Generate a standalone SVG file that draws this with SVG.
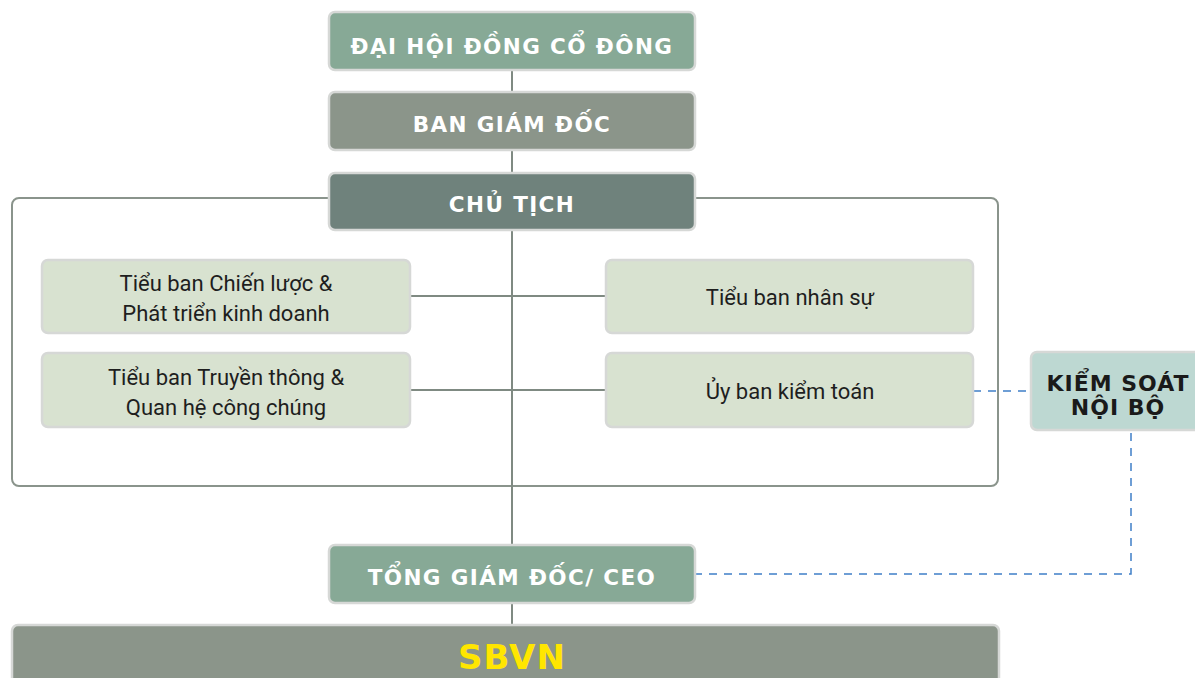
<svg xmlns="http://www.w3.org/2000/svg" width="1195" height="678" viewBox="0 0 1195 678">
<style>
.box{stroke:#d6d8d6;stroke-width:2.5}
.sub{fill:#d8e2d0}
.t{font-family:"DejaVu Sans","Liberation Sans",sans-serif;font-weight:700;font-size:21.5px;fill:#ffffff;text-anchor:middle;letter-spacing:1.4px}
.s{font-family:Roboto,"Liberation Sans",sans-serif;font-size:22px;fill:#1e1e1e;text-anchor:middle}
.line{stroke:#7f8a82;stroke-width:2;fill:none}
.dash{stroke:#3f7fc7;stroke-width:1.5;fill:none;stroke-dasharray:8 7}
</style>
<rect x="12" y="198" width="986" height="288" rx="7" fill="none" stroke="#8a948c" stroke-width="2"/>
<g id="connectors">
<line class="line" x1="512" y1="70" x2="512" y2="625"/>
<line class="line" x1="410" y1="296" x2="606" y2="296"/>
<line class="line" x1="410" y1="390" x2="606" y2="390"/>
<line class="dash" x1="973" y1="391" x2="1031" y2="391"/>
<polyline class="dash" points="1131,433 1131,574 695,574"/>
</g>
<g id="dhdcd"><rect class="box" x="329" y="12" width="366" height="58" rx="6" fill="#87a996"/><text class="t" x="512" y="54">ĐẠI HỘI ĐỒNG CỔ ĐÔNG</text></g>
<g id="bgd"><rect class="box" x="329" y="92" width="366" height="58" rx="6" fill="#8b958a"/><text class="t" x="512" y="132">BAN GIÁM ĐỐC</text></g>
<g id="chutich"><rect class="box" x="329" y="173" width="366" height="57" rx="6" fill="#6f827c"/><text class="t" x="512" y="212">CHỦ TỊCH</text></g>
<g id="tb1"><rect class="box sub" x="42" y="260" width="368" height="73" rx="6"/><text class="s" x="226" y="291">Tiểu ban Chiến lược &amp;</text><text class="s" x="226" y="321">Phát triển kinh doanh</text></g>
<g id="tb2"><rect class="box sub" x="42" y="353" width="368" height="74" rx="6"/><text class="s" x="226" y="385">Tiểu ban Truyền thông &amp;</text><text class="s" x="226" y="415">Quan hệ công chúng</text></g>
<g id="tb3"><rect class="box sub" x="606" y="260" width="367" height="73" rx="6"/><text class="s" x="790" y="305">Tiểu ban nhân sự</text></g>
<g id="tb4"><rect class="box sub" x="606" y="353" width="367" height="74" rx="6"/><text class="s" x="790" y="399">Ủy ban kiểm toán</text></g>
<g id="ksnb"><rect class="box" x="1031" y="352" width="175" height="78" rx="6" fill="#bdd8d2"/><text class="t" x="1118" y="391" style="fill:#1a1a1a;font-size:22px;letter-spacing:1px">KIỂM SOÁT</text><text class="t" x="1118" y="415" style="fill:#1a1a1a;font-size:22px;letter-spacing:1px">NỘI BỘ</text></g>
<g id="tgd"><rect class="box" x="329" y="545" width="366" height="58" rx="6" fill="#87a996"/><text class="t" x="512" y="585">TỔNG GIÁM ĐỐC/ CEO</text></g>
<g id="sbvn"><rect class="box" x="12" y="625" width="987" height="70" rx="6" fill="#8b958a"/><text class="t" x="512" y="669" style="fill:#ffe600;font-size:34px;letter-spacing:1px">SBVN</text></g>
</svg>
